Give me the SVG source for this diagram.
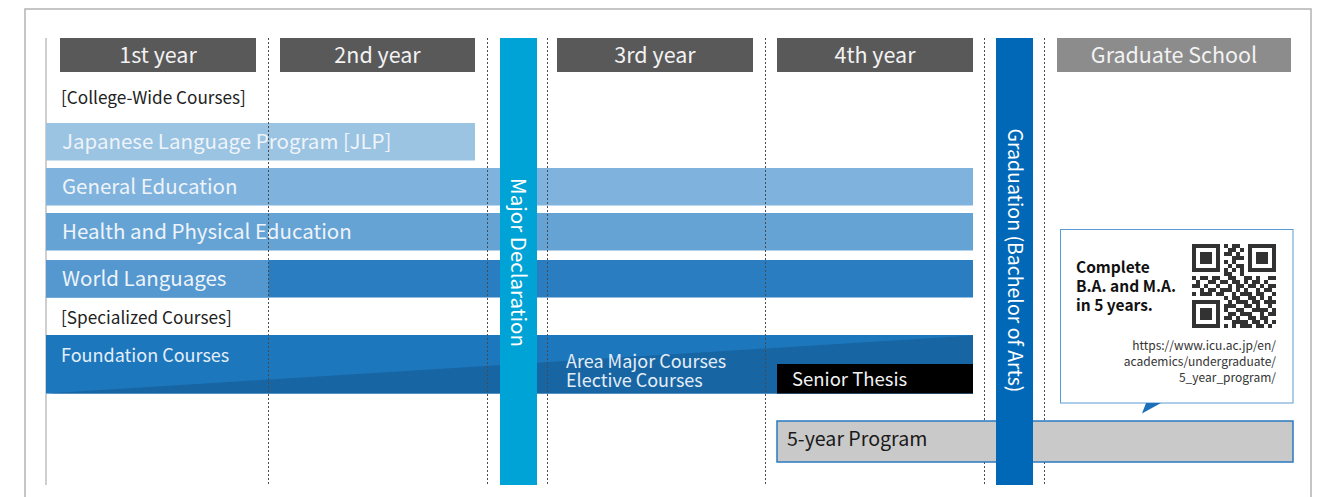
<svg xmlns="http://www.w3.org/2000/svg" width="1326" height="497" viewBox="0 0 1326 497">
<style>
text{font-family:"Noto Sans CJK JP","Noto Sans",sans-serif}
.hd{fill:#595959}
.ht{fill:#f2f2f2;font-size:21.5px;text-anchor:middle}
.bl{fill:#eef4fa;font-size:20.5px}
.sec{fill:#222;font-size:17.2px}
.sp{fill:#e4eef8;font-size:18px}
.dot{stroke:#4a4a4a;stroke-width:1;stroke-dasharray:2 2;fill:none}
.vt{fill:#fff;text-anchor:middle}
.cb{fill:#111;font-size:15.5px;font-weight:bold}
.url{fill:#333;font-size:12px;text-anchor:end}
</style>
<defs><filter id="soft" x="-5%" y="-5%" width="110%" height="110%"><feGaussianBlur stdDeviation="0.6"/></filter></defs>
<rect x="25" y="9" width="1286" height="520" fill="#fff" stroke="#b3b3b3" stroke-width="1.5"/>
<line x1="46" y1="38" x2="46" y2="485" stroke="#cfcfcf" stroke-width="2"/>

<g id="headers">
<g id="h1"><rect class="hd" x="60" y="38" width="196" height="34"/><text class="ht" x="158" y="62.5">1st year</text></g>
<g id="h2"><rect class="hd" x="280" y="38" width="195" height="34"/><text class="ht" x="377.5" y="62.5">2nd year</text></g>
<g id="h3"><rect class="hd" x="557" y="38" width="196" height="34"/><text class="ht" x="655" y="62.5">3rd year</text></g>
<g id="h4"><rect class="hd" x="777" y="38" width="196" height="34"/><text class="ht" x="875" y="62.5">4th year</text></g>
<g id="h5"><rect fill="#8c8c8c" x="1057" y="38" width="234" height="34"/><text class="ht" x="1174" y="62.5">Graduate School</text></g>
</g>

<text class="sec" x="61" y="103.5">[College-Wide Courses]</text>
<text class="sec" x="61" y="323.5">[Specialized Courses]</text>

<g id="jlp"><rect x="46" y="123" width="429" height="37.5" fill="#9bc3e2"/><text class="bl" x="62" y="148.5">Japanese Language Program [JLP]</text></g>
<g id="gened"><rect x="46" y="168" width="927" height="37.5" fill="#7fb2dc"/><text class="bl" x="62" y="193.5">General Education</text></g>
<g id="hpe"><rect x="46" y="213" width="927" height="37.5" fill="#66a3d5"/><text class="bl" x="62" y="239">Health and Physical Education</text></g>
<g id="wl"><rect x="46" y="260" width="927" height="37.5" fill="#2a7dc1"/><rect x="46" y="260" width="222.5" height="37.5" fill="#5498cf"/><text class="bl" x="62" y="285.5">World Languages</text></g>
<g id="spec">
<rect x="46" y="335" width="927" height="58.5" fill="#1d77bd"/>
<polygon points="46,393.5 973,335.5 973,393.5" fill="#1865a3"/>
<text class="sp" x="61" y="362">Foundation Courses</text>
<text class="sp" x="566" y="367.5">Area Major Courses</text>
<text class="sp" x="566" y="387">Elective Courses</text>
</g>
<g id="thesis"><rect x="777" y="364" width="196" height="29.5" fill="#000"/><text fill="#f2f2f2" font-size="18.5" x="792" y="386">Senior Thesis</text></g>

<g id="gridlines">
<line class="dot" x1="268.5" y1="38" x2="268.5" y2="485"/>
<line class="dot" x1="487.5" y1="38" x2="487.5" y2="485"/>
<line class="dot" x1="547.5" y1="38" x2="547.5" y2="485"/>
<line class="dot" x1="765.5" y1="38" x2="765.5" y2="485"/>
<line class="dot" x1="984.5" y1="38" x2="984.5" y2="485"/>
<line class="dot" x1="1044.5" y1="38" x2="1044.5" y2="485"/>
</g>

<g id="major"><rect x="500" y="38" width="37" height="447" fill="#00a3d6"/><text class="vt" font-size="20.5" transform="translate(518.5,262.5) rotate(90)" dy="0.35em">Major Declaration</text></g>

<g id="five"><rect x="777" y="421" width="516" height="41" fill="#c9c9c9" stroke="#2a7ac0" stroke-width="1.5"/><text fill="#1a1a1a" font-size="19.6" x="787" y="446">5-year Program</text></g>

<g id="grad"><rect x="996" y="38" width="37" height="447" fill="#0068b7"/><text class="vt" font-size="19.5" transform="translate(1014.5,260.5) rotate(90)" dy="0.35em">Graduation (Bachelor of Arts)</text></g>

<g id="callout">
<rect x="1060.5" y="229.5" width="232.5" height="173.5" fill="#fff" stroke="#5b9bd5" stroke-width="1"/>
<polygon points="1146,403 1161,403 1142,413.5" fill="#1c6fb8"/>
<text class="cb" x="1076" y="273">Complete</text>
<text class="cb" x="1076" y="292">B.A. and M.A.</text>
<text class="cb" x="1076" y="310.5">in 5 years.</text>
<path filter="url(#soft)" stroke="#333" stroke-width="4" fill="none" d="M1192 246h28M1224 246h4M1232 246h8M1248 246h28M1192 250h4M1216 250h4M1228 250h8M1240 250h4M1248 250h4M1272 250h4M1192 254h4M1200 254h12M1216 254h4M1224 254h8M1236 254h4M1248 254h4M1256 254h12M1272 254h4M1192 258h4M1200 258h12M1216 258h4M1232 258h12M1248 258h4M1256 258h12M1272 258h4M1192 262h4M1200 262h12M1216 262h4M1224 262h4M1232 262h4M1248 262h4M1256 262h12M1272 262h4M1192 266h4M1216 266h4M1228 266h4M1236 266h8M1248 266h4M1272 266h4M1192 270h28M1224 270h4M1232 270h4M1240 270h4M1248 270h28M1224 274h8M1240 274h4M1192 278h4M1200 278h8M1212 278h8M1228 278h8M1244 278h8M1256 278h4M1268 278h8M1196 282h4M1208 282h8M1220 282h8M1232 282h8M1244 282h4M1252 282h8M1264 282h4M1192 286h8M1204 286h4M1216 286h4M1228 286h4M1236 286h8M1248 286h8M1260 286h4M1268 286h8M1200 290h4M1208 290h8M1220 290h12M1236 290h4M1244 290h4M1256 290h4M1264 290h8M1192 294h4M1200 294h12M1216 294h8M1232 294h4M1240 294h12M1256 294h8M1272 294h4M1224 298h4M1232 298h8M1248 298h8M1260 298h4M1268 298h4M1192 302h28M1228 302h4M1236 302h12M1252 302h8M1264 302h12M1192 306h4M1216 306h4M1224 306h12M1244 306h8M1256 306h4M1268 306h4M1192 310h4M1200 310h12M1216 310h4M1224 310h4M1236 310h8M1252 310h16M1272 310h4M1192 314h4M1200 314h12M1216 314h4M1228 314h8M1240 314h12M1260 314h4M1268 314h8M1192 318h4M1200 318h12M1216 318h4M1224 318h8M1236 318h4M1248 318h8M1260 318h8M1192 322h4M1216 322h4M1232 322h16M1252 322h8M1264 322h4M1272 322h4M1192 326h28M1224 326h4M1232 326h4M1240 326h12M1256 326h8M1268 326h4"/>
<text class="url" x="1276" y="350">https://www.icu.ac.jp/en/</text>
<text class="url" x="1276" y="366">academics/undergraduate/</text>
<text class="url" x="1276" y="382">5_year_program/</text>
</g>
</svg>
